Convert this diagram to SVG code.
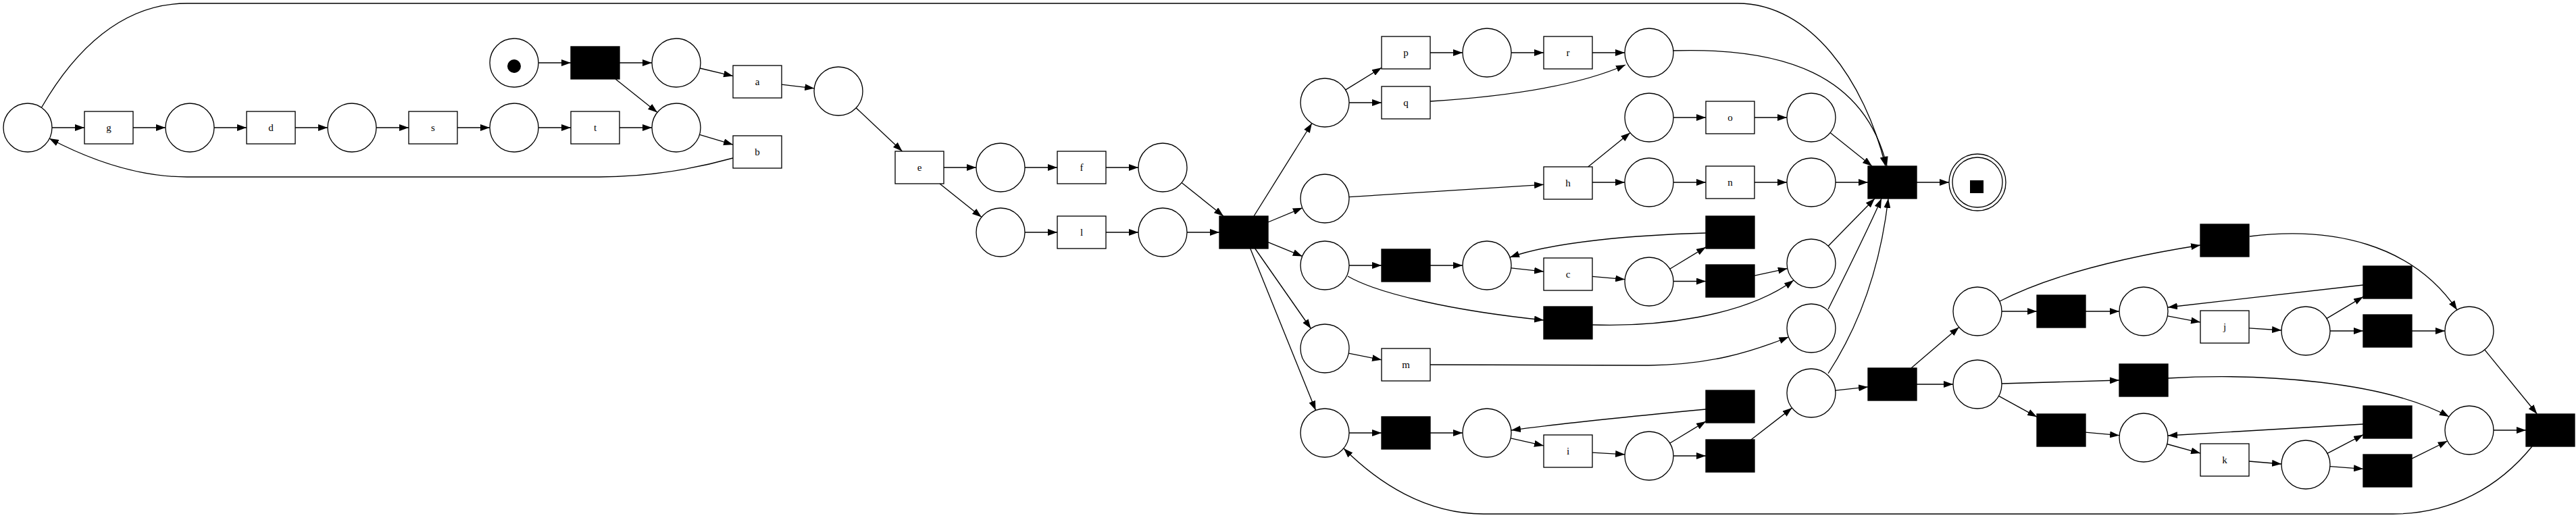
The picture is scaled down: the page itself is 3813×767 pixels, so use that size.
<svg xmlns="http://www.w3.org/2000/svg" width="3813" height="767" viewBox="0 0 3813 767">
<style>
.pl{fill:#fff;stroke:#000;stroke-width:1.33}
.tr{fill:#fff;stroke:#000;stroke-width:1.33}
.tb{fill:#000;stroke:#000;stroke-width:1.33}
.e{fill:none;stroke:#000;stroke-width:1.33;marker-end:url(#ah)}
.lb{font-family:"Liberation Serif","Times New Roman",serif;font-size:15px;text-anchor:middle;fill:#000}
</style>
<defs>
<marker id="ah" markerUnits="userSpaceOnUse" markerWidth="14" markerHeight="10" refX="14" refY="5" orient="auto" viewBox="0 0 14 10"><path d="M0,0 L14,5 L0,10 z" fill="#000"/></marker>
</defs>
<rect width="3813" height="767" fill="#fff"/>
<g id="edges">
<path class="e" d="M77,189 L125,189"/>
<path class="e" d="M197,189 L245,189"/>
<path class="e" d="M317,189 L365,189"/>
<path class="e" d="M437,189 L485,189"/>
<path class="e" d="M557,189 L605,189"/>
<path class="e" d="M677,189 L725,189"/>
<path class="e" d="M797,189 L845,189"/>
<path class="e" d="M917,189 L965,189"/>
<path class="e" d="M797,93 L845,93"/>
<path class="e" d="M917,93 L965,93"/>
<path class="e" d="M911,117 L973,166.5"/>
<path class="e" d="M1036,101 L1085,112.6"/>
<path class="e" d="M1157,125.2 L1205.2,130.8"/>
<path class="e" d="M1035.5,199.3 L1085,214.2"/>
<path class="e" d="M1085,234 C1020,252 950,262 887,262 L277,262 C200,262 130,235 73,205"/>
<path class="e" d="M1267.2,159.7 L1335.5,224"/>
<path class="e" d="M1397,248 L1445,248"/>
<path class="e" d="M1391,272 L1452.9,321.5"/>
<path class="e" d="M1517,248 L1565,248"/>
<path class="e" d="M1637,248 L1685,248"/>
<path class="e" d="M1517,344 L1565,344"/>
<path class="e" d="M1637,344 L1685,344"/>
<path class="e" d="M1749.1,270.5 L1811,320"/>
<path class="e" d="M1757,344 L1805,344"/>
<path class="e" d="M1856,320 L1941.9,182.5"/>
<path class="e" d="M1877,329 L1927.8,307.8"/>
<path class="e" d="M1877,358.7 L1927.7,379.4"/>
<path class="e" d="M1857.7,368 L1940.4,486.5"/>
<path class="e" d="M1850.7,368 L1947.5,607.6"/>
<path class="e" d="M61.6,159 C110,75 180,5 277,5 L2572,5 C2680,5 2760,120 2791,246"/>
<path class="e" d="M1991.6,133.1 L2045,100.2"/>
<path class="e" d="M1997,152 L2045,152"/>
<path class="e" d="M2117,78 L2165,78"/>
<path class="e" d="M2237,78 L2285,78"/>
<path class="e" d="M2357,78 L2405,78"/>
<path class="e" d="M2117,150 C2210,144 2330,130 2406,96"/>
<path class="e" d="M2477,75 C2640,70 2760,110 2793,246"/>
<path class="e" d="M1996.9,291.7 L2285,273.3"/>
<path class="e" d="M2350.7,247 L2413,196.6"/>
<path class="e" d="M2357,270 L2405,270"/>
<path class="e" d="M2477,174 L2525,174"/>
<path class="e" d="M2597,174 L2645,174"/>
<path class="e" d="M2477,270 L2525,270"/>
<path class="e" d="M2597,270 L2645,270"/>
<path class="e" d="M2717,270 L2765,270"/>
<path class="e" d="M2709.1,196.5 L2771,246"/>
<path class="e" d="M2837,270 L2885,270"/>
<path class="e" d="M1997,393 L2045,393"/>
<path class="e" d="M2117,393 L2165,393"/>
<path class="e" d="M2236.8,396.9 L2285,402.1"/>
<path class="e" d="M2357,409.3 L2405.2,413.7"/>
<path class="e" d="M2471.7,398.3 L2525,365.9"/>
<path class="e" d="M2477,416.5 L2525,416.5"/>
<path class="e" d="M2597,408.2 L2645.8,397.6"/>
<path class="e" d="M2525,345 C2420,348 2300,358 2235,381"/>
<path class="e" d="M1995,409 C2040,435 2150,460 2285,474"/>
<path class="e" d="M2357,481 C2450,484 2580,470 2655,415"/>
<path class="e" d="M2706.2,364.3 L2775,294"/>
<path class="e" d="M2706,458 C2730,410 2765,340 2785,294"/>
<path class="e" d="M2706,553 C2760,470 2785,380 2795,294"/>
<path class="e" d="M1996.3,523.1 L2045,532.8"/>
<path class="e" d="M2117,540 L2440,541 C2530,540 2590,522 2647.5,499"/>
<path class="e" d="M1997,641 L2045,641"/>
<path class="e" d="M2117,641 L2165,641"/>
<path class="e" d="M2236.1,648.9 L2285,659.9"/>
<path class="e" d="M2357,670.1 L2405.1,672.9"/>
<path class="e" d="M2471.7,656.3 L2525,623.9"/>
<path class="e" d="M2477,675 L2525,675"/>
<path class="e" d="M2592,651 L2652.5,604.1"/>
<path class="e" d="M2525,606 C2420,616 2310,627 2237,637"/>
<path class="e" d="M2716.8,578.1 L2765,572.9"/>
<path class="e" d="M2829,545 L2899.7,484.4"/>
<path class="e" d="M2837,569 L2891,569"/>
<path class="e" d="M2963,461 L3015,461"/>
<path class="e" d="M2960,446 C3040,405 3150,380 3257,363"/>
<path class="e" d="M3087,461 L3137,461"/>
<path class="e" d="M3208.4,467.8 L3257,477.1"/>
<path class="e" d="M3329,485.8 L3377,489"/>
<path class="e" d="M3443.9,471.6 L3498,439.4"/>
<path class="e" d="M3449,490 L3498,490"/>
<path class="e" d="M3570,490 L3619,490"/>
<path class="e" d="M3498,422 L3209,455"/>
<path class="e" d="M3330,350 C3450,335 3570,360 3637,459"/>
<path class="e" d="M3677.8,517.9 L3755.4,613"/>
<path class="e" d="M2963,568 L3137,563"/>
<path class="e" d="M2958.6,586.3 L3015,617.3"/>
<path class="e" d="M3087,640.2 L3137.1,644.7"/>
<path class="e" d="M3207.7,657.5 L3257,671.1"/>
<path class="e" d="M3329,683 L3377,687"/>
<path class="e" d="M3444.9,671.4 L3498,643.7"/>
<path class="e" d="M3448.9,690.7 L3498,694.3"/>
<path class="e" d="M3570,679.1 L3622.7,653"/>
<path class="e" d="M3498,628 L3209,645"/>
<path class="e" d="M3209,560 C3350,552 3530,565 3625,617"/>
<path class="e" d="M3691,637 L3739,637"/>
<path class="e" d="M3748,661 C3700,720 3630,761 3542,761 L2196,761 C2110,761 2040,715 1989,664"/>
</g>
<g id="p1"><circle class="pl" cx="41" cy="189" r="36"/></g>
<g id="p2"><circle class="pl" cx="281" cy="189" r="36"/></g>
<g id="p3"><circle class="pl" cx="521" cy="189" r="36"/></g>
<g id="p4"><circle class="pl" cx="761" cy="189" r="36"/></g>
<g id="pstart"><circle class="pl" cx="761" cy="93" r="36"/><circle cx="761" cy="98" r="10" fill="#000"/></g>
<g id="p5"><circle class="pl" cx="1001" cy="93" r="36"/></g>
<g id="p6"><circle class="pl" cx="1001" cy="189" r="36"/></g>
<g id="p7"><circle class="pl" cx="1241" cy="135" r="36"/></g>
<g id="p8"><circle class="pl" cx="1481" cy="248" r="36"/></g>
<g id="p9"><circle class="pl" cx="1481" cy="344" r="36"/></g>
<g id="p10"><circle class="pl" cx="1721" cy="248" r="36"/></g>
<g id="p11"><circle class="pl" cx="1721" cy="344" r="36"/></g>
<g id="p12"><circle class="pl" cx="1961" cy="152" r="36"/></g>
<g id="p13"><circle class="pl" cx="1961" cy="294" r="36"/></g>
<g id="p14"><circle class="pl" cx="1961" cy="393" r="36"/></g>
<g id="p15"><circle class="pl" cx="1961" cy="516" r="36"/></g>
<g id="p16"><circle class="pl" cx="1961" cy="641" r="36"/></g>
<g id="p17"><circle class="pl" cx="2201" cy="78" r="36"/></g>
<g id="p18"><circle class="pl" cx="2441" cy="78" r="36"/></g>
<g id="p19"><circle class="pl" cx="2441" cy="174" r="36"/></g>
<g id="p20"><circle class="pl" cx="2441" cy="270" r="36"/></g>
<g id="p21"><circle class="pl" cx="2681" cy="174" r="36"/></g>
<g id="p22"><circle class="pl" cx="2681" cy="270" r="36"/></g>
<g id="p23"><circle class="pl" cx="2201" cy="393" r="36"/></g>
<g id="p24"><circle class="pl" cx="2441" cy="417" r="36"/></g>
<g id="p25"><circle class="pl" cx="2681" cy="390" r="36"/></g>
<g id="p26"><circle class="pl" cx="2681" cy="486" r="36"/></g>
<g id="p27"><circle class="pl" cx="2681" cy="582" r="36"/></g>
<g id="p28"><circle class="pl" cx="2201" cy="641" r="36"/></g>
<g id="p29"><circle class="pl" cx="2441" cy="675" r="36"/></g>
<g id="p30"><circle class="pl" cx="2927" cy="461" r="36"/></g>
<g id="p31"><circle class="pl" cx="2927" cy="569" r="36"/></g>
<g id="p32"><circle class="pl" cx="3173" cy="461" r="36"/></g>
<g id="p33"><circle class="pl" cx="3413" cy="490" r="36"/></g>
<g id="p34"><circle class="pl" cx="3655" cy="490" r="36"/></g>
<g id="p35"><circle class="pl" cx="3173" cy="648" r="36"/></g>
<g id="p36"><circle class="pl" cx="3413" cy="688" r="36"/></g>
<g id="p37"><circle class="pl" cx="3655" cy="637" r="36"/></g>
<g id="pend"><circle class="pl" cx="2927" cy="270" r="42"/><circle class="pl" cx="2927" cy="270" r="37"/><rect x="2916" y="267" width="20" height="19" fill="#000"/></g>
<g id="t_g"><rect class="tr" x="125" y="165" width="72" height="48"/><text class="lb" x="161" y="194">g</text></g>
<g id="t_d"><rect class="tr" x="365" y="165" width="72" height="48"/><text class="lb" x="401" y="194">d</text></g>
<g id="t_s"><rect class="tr" x="605" y="165" width="72" height="48"/><text class="lb" x="641" y="194">s</text></g>
<g id="t_t"><rect class="tr" x="845" y="165" width="72" height="48"/><text class="lb" x="881" y="194">t</text></g>
<g id="t0"><rect class="tb" x="845" y="69" width="72" height="48"/></g>
<g id="t_a"><rect class="tr" x="1085" y="97" width="72" height="48"/><text class="lb" x="1121" y="126">a</text></g>
<g id="t_b"><rect class="tr" x="1085" y="201" width="72" height="48"/><text class="lb" x="1121" y="230">b</text></g>
<g id="t_e"><rect class="tr" x="1325" y="224" width="72" height="48"/><text class="lb" x="1361" y="253">e</text></g>
<g id="t_f"><rect class="tr" x="1565" y="224" width="72" height="48"/><text class="lb" x="1601" y="253">f</text></g>
<g id="t_l"><rect class="tr" x="1565" y="320" width="72" height="48"/><text class="lb" x="1601" y="349">l</text></g>
<g id="tsplit"><rect class="tb" x="1805" y="320" width="72" height="48"/></g>
<g id="t_p"><rect class="tr" x="2045" y="54" width="72" height="48"/><text class="lb" x="2081" y="83">p</text></g>
<g id="t_q"><rect class="tr" x="2045" y="128" width="72" height="48"/><text class="lb" x="2081" y="157">q</text></g>
<g id="t_r"><rect class="tr" x="2285" y="54" width="72" height="48"/><text class="lb" x="2321" y="83">r</text></g>
<g id="t_h"><rect class="tr" x="2285" y="247" width="72" height="48"/><text class="lb" x="2321" y="276">h</text></g>
<g id="t_o"><rect class="tr" x="2525" y="150" width="72" height="48"/><text class="lb" x="2561" y="179">o</text></g>
<g id="t_n"><rect class="tr" x="2525" y="246" width="72" height="48"/><text class="lb" x="2561" y="275">n</text></g>
<g id="tfinal"><rect class="tb" x="2765" y="246" width="72" height="48"/></g>
<g id="tb1"><rect class="tb" x="2045" y="369" width="72" height="48"/></g>
<g id="t_c"><rect class="tr" x="2285" y="382" width="72" height="48"/><text class="lb" x="2321" y="411">c</text></g>
<g id="tb2"><rect class="tb" x="2285" y="454" width="72" height="48"/></g>
<g id="tb3"><rect class="tb" x="2525" y="320" width="72" height="48"/></g>
<g id="tb4"><rect class="tb" x="2525" y="392" width="72" height="48"/></g>
<g id="t_m"><rect class="tr" x="2045" y="516" width="72" height="48"/><text class="lb" x="2081" y="545">m</text></g>
<g id="tb5"><rect class="tb" x="2045" y="617" width="72" height="48"/></g>
<g id="t_i"><rect class="tr" x="2285" y="644" width="72" height="48"/><text class="lb" x="2321" y="673">i</text></g>
<g id="tb6"><rect class="tb" x="2525" y="578" width="72" height="48"/></g>
<g id="tb7"><rect class="tb" x="2525" y="651" width="72" height="48"/></g>
<g id="tb8"><rect class="tb" x="2765" y="545" width="72" height="48"/></g>
<g id="tb9"><rect class="tb" x="3015" y="437" width="72" height="48"/></g>
<g id="tb10"><rect class="tb" x="3257" y="332" width="72" height="48"/></g>
<g id="t_j"><rect class="tr" x="3257" y="460" width="72" height="48"/><text class="lb" x="3293" y="489">j</text></g>
<g id="tb11"><rect class="tb" x="3498" y="394" width="72" height="48"/></g>
<g id="tb12"><rect class="tb" x="3498" y="466" width="72" height="48"/></g>
<g id="tb13"><rect class="tb" x="3137" y="539" width="72" height="48"/></g>
<g id="tb14"><rect class="tb" x="3015" y="613" width="72" height="48"/></g>
<g id="t_k"><rect class="tr" x="3257" y="657" width="72" height="48"/><text class="lb" x="3293" y="686">k</text></g>
<g id="tb15"><rect class="tb" x="3498" y="601" width="72" height="48"/></g>
<g id="tb16"><rect class="tb" x="3498" y="673" width="72" height="48"/></g>
<g id="tb17"><rect class="tb" x="3739" y="613" width="72" height="48"/></g>
</svg>
